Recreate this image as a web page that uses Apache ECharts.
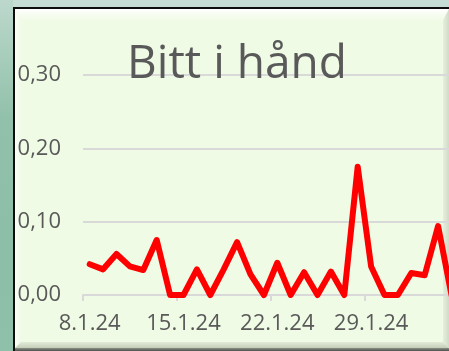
<!DOCTYPE html>
<html>
<head>
<meta charset="utf-8">
<script src="https://cdn.jsdelivr.net/npm/echarts@6/dist/echarts.min.js"></script>
<style>
  html, body { margin: 0; padding: 0; background: #c6ddd5; }
  #chart { width: 449px; height: 351px; }
</style>
</head>
<body>
<div id="chart"></div>
<script>
// Daily dates on the category axis
const dates = [
  '8.1.24', '9.1.24', '10.1.24', '11.1.24', '12.1.24', '13.1.24', '14.1.24',
  '15.1.24', '16.1.24', '17.1.24', '18.1.24', '19.1.24', '20.1.24', '21.1.24',
  '22.1.24', '23.1.24', '24.1.24', '25.1.24', '26.1.24', '27.1.24', '28.1.24',
  '29.1.24', '30.1.24', '31.1.24', '1.2.24', '2.2.24', '3.2.24', '4.2.24'
];

// Daily rate of hand bites
const biteRate = [
  0.042, 0.035, 0.056, 0.039, 0.034, 0.075, 0.000,
  0.000, 0.035, 0.000, 0.035, 0.072, 0.028, 0.000,
  0.044, 0.000, 0.031, 0.000, 0.032, 0.000, 0.175,
  0.039, 0.000, 0.000, 0.030, 0.027, 0.094, 0.000
];

// Value axis ticks
const yTicks = [0, 0.1, 0.2, 0.3];

const titleText = 'Bitt i hånd';

const FONT = '"Open Sans", "Liberation Sans", sans-serif';
const TEXT_COLOR = '#595959';
const GRID_COLOR = '#d9d9d9';
const dayWidth = 13.4;

const chart = echarts.init(document.getElementById('chart'), null, { renderer: 'canvas' });

function lin(x1, y1, x2, y2, stops) {
  return new echarts.graphic.LinearGradient(x1, y1, x2, y2,
    stops.map((c, i) => ({ offset: i / (stops.length - 1), color: c })));
}

// Frame: outer backdrop, black edge, bevelled light-green panel
const decor = [
  { type: 'rect', z: -20, shape: { x: 0, y: 0, width: 449, height: 351 }, style: { fill: '#c6ddd5' } },
  { type: 'rect', z: -19, shape: { x: 0, y: 0, width: 13, height: 351 },
    style: { fill: lin(0, 0, 0, 1, ['#bcd8cc', '#92c1ab', '#8dbea7', '#8ec0aa']) } },
  { type: 'rect', z: -18, shape: { x: 13, y: 7, width: 436, height: 344 }, style: { fill: '#0d0d0d' } },
  { type: 'rect', z: -17, shape: { x: 15, y: 9, width: 434, height: 339 }, style: { fill: '#effbe5' } },
  // top bevel
  { type: 'polygon', z: -16, shape: { points: [[15, 9], [449, 9], [443, 20], [21, 20]] },
    style: { fill: lin(0, 0, 0, 1, ['#ffffff', '#f7fdf2', '#f1fbe8']) } },
  // left bevel
  { type: 'polygon', z: -16, shape: { points: [[15, 9], [21, 20], [21, 342], [15, 348]] },
    style: { fill: lin(0, 0, 1, 0, ['#fbfff8', '#f1fbe8']) } },
  // right bevel
  { type: 'polygon', z: -16, shape: { points: [[449, 9], [449, 348], [443, 342], [443, 20]] },
    style: { fill: lin(0, 0, 1, 0, ['#e6efdd', '#d0dbc7']) } },
  // bottom bevel
  { type: 'polygon', z: -16, shape: { points: [[15, 348], [21, 342], [443, 342], [449, 348]] },
    style: { fill: lin(0, 0, 0, 1, ['#e2ebd8', '#c3ceb9']) } },
  { type: 'rect', z: -15, shape: { x: 15, y: 348, width: 434, height: 3 },
    style: { fill: lin(0, 0, 0, 1, ['#8a9186', '#4f524e']) } },
  // chart title
  { type: 'text', z: 10, x: 237, y: 65,
    style: { text: titleText, fill: TEXT_COLOR, font: '46px ' + FONT, align: 'center', verticalAlign: 'middle' } }
];

const option = {
  animation: false,
  backgroundColor: 'transparent',
  graphic: { elements: decor },
  grid: {
    left: 83, top: 75, height: 220, width: dayWidth * dates.length,
    containLabel: false, outerBoundsMode: 'none'
  },
  xAxis: {
    type: 'category',
    data: dates,
    boundaryGap: true,
    axisLine: { show: true, lineStyle: { color: GRID_COLOR, width: 2 } },
    axisTick: { show: true, interval: 6, length: 6, lineStyle: { color: GRID_COLOR, width: 2 } },
    axisLabel: { interval: 6, margin: 18, color: TEXT_COLOR, fontSize: 22, fontFamily: FONT },
    splitLine: { show: false }
  },
  yAxis: {
    type: 'value',
    min: yTicks[0],
    max: yTicks[yTicks.length - 1],
    interval: yTicks[1] - yTicks[0],
    axisLine: { show: false },
    axisTick: { show: false },
    axisLabel: {
      margin: 22, color: TEXT_COLOR, fontSize: 22, fontFamily: FONT,
      formatter: v => v.toFixed(2).replace('.', ',')
    },
    splitLine: { show: true, lineStyle: { color: GRID_COLOR, width: 2 } }
  },
  series: [{
    type: 'line',
    data: biteRate,
    symbol: 'none',
    clip: false,
    z: 5,
    lineStyle: { color: '#ff0000', width: 6, join: 'round', cap: 'round' }
  }]
};

chart.setOption(option);
</script>
</body>
</html>
